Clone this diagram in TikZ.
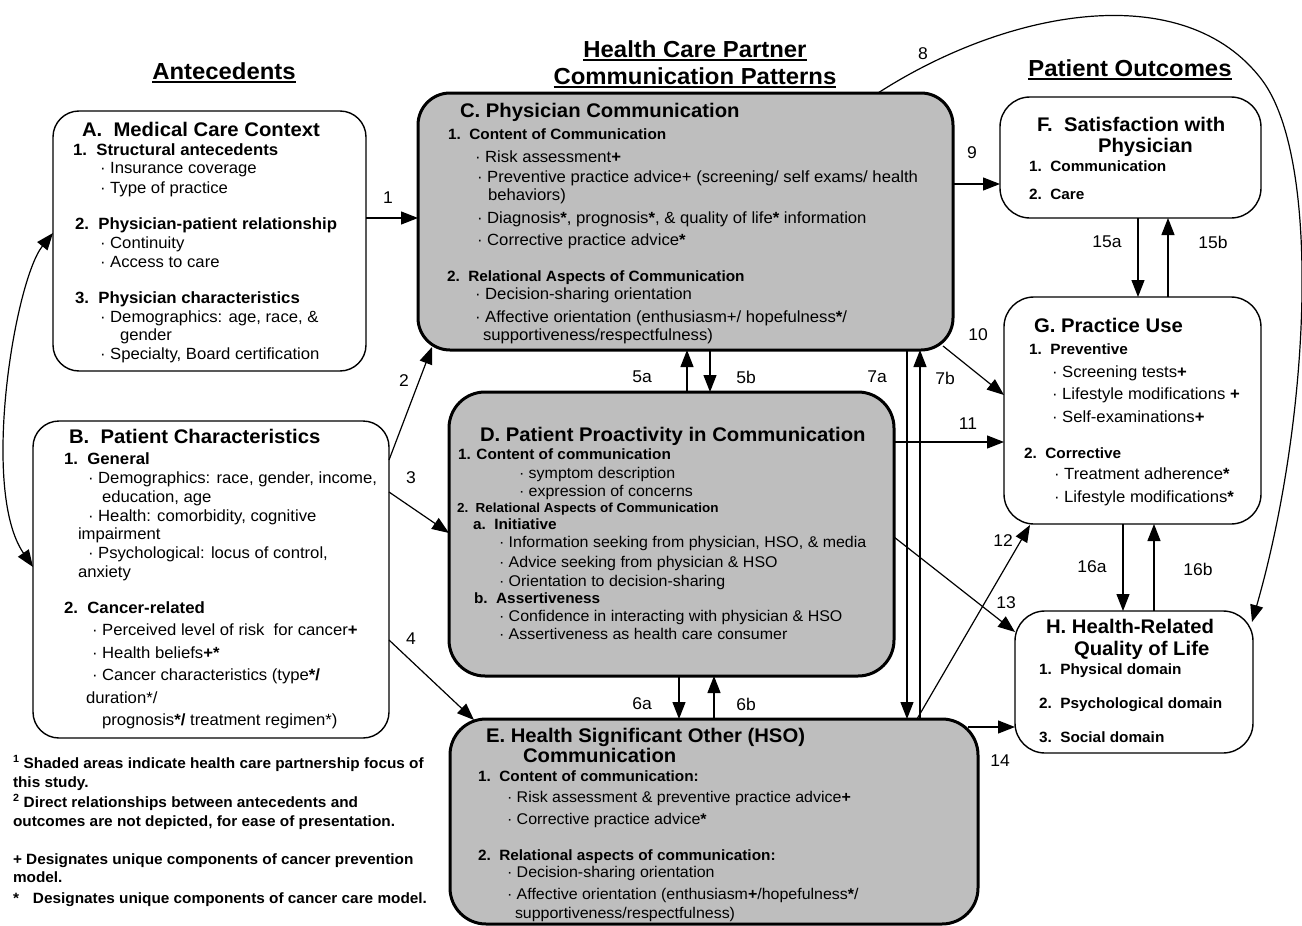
\documentclass[tikz,border=0pt]{standalone}
\usepackage{fontspec}
\setmainfont[FakeStretch=1.03]{Liberation Sans}
\usetikzlibrary{arrows.meta,calc}
\definecolor{boxgray}{RGB}{190,190,190}
\newcounter{tln}
\newcommand{\txl}[4][]{\stepcounter{tln}\node[txt,#1] (L\arabic{tln}) at (#2,#3) {#4};}
\newcommand{\fbody}{\fontsize{16.2}{18}\selectfont}
\newcommand{\fsm}{\fontsize{15.5}{18}\selectfont}
\newcommand{\fsub}{\fontsize{14.9}{18}\selectfont\bfseries}
\newcommand{\fsubA}{\fontsize{16.3}{18}\selectfont\bfseries}
\newcommand{\fsubs}{\fontsize{13.1}{16}\selectfont\bfseries}
\newcommand{\ftitle}{\fontsize{19.7}{22}\selectfont\bfseries}
\newcommand{\fhead}{\fontsize{23.2}{26}\selectfont\bfseries}
\newcommand{\ffoot}{\fontsize{14.9}{18}\selectfont\bfseries}
\newcommand{\fnum}{\fontsize{17}{18}\selectfont}
\newcommand{\ulx}[1]{\setbox0\hbox{#1}\rlap{\rule[-3.5pt]{\wd0}{1.8pt}}\box0}
\begin{document}
\begin{tikzpicture}[x=1pt,y=-1pt,
  txt/.style={anchor=base west, inner sep=0pt, outer sep=0pt, font=\fbody},
  sm/.style={font=\fsm},
  sh/.style={font=\fsub},
  shA/.style={font=\fsubA},
  shs/.style={font=\fsubs},
  ti/.style={font=\ftitle},
  hd/.style={font=\fhead, anchor=base},
  fn/.style={font=\ffoot},
  num/.style={font=\fnum, inner sep=0pt},
  box/.style={draw, rounded corners=26pt, line width=1.4pt, inner sep=0pt, outer sep=0pt},
  gbox/.style={box, fill=boxgray, line width=3pt, rounded corners=32pt},
  arr/.style={line width=1.2pt, -{Triangle[length=17pt,width=13pt]}},
  arrb/.style={line width=1.2pt, {Triangle[length=17pt,width=13pt]}-{Triangle[length=17pt,width=13pt]}},
  ln/.style={line width=1.2pt}
]
\useasboundingbox (0,0) rectangle (1302,926);

% boxes
\node[box, minimum width=313pt, minimum height=260pt] (A) at (209.5,241) {};
\node[box, minimum width=356pt, minimum height=317pt] (B) at (211,579.5) {};
\node[gbox, minimum width=535pt, minimum height=257pt] (C) at (685.5,221.5) {};
\node[gbox, minimum width=445pt, minimum height=284pt, rounded corners=36pt] (D) at (671.5,534) {};
\node[gbox, minimum width=528pt, minimum height=205pt, rounded corners=36pt] (E) at (714,821.5) {};
\node[box, minimum width=261pt, minimum height=121pt, rounded corners=30pt] (F) at (1130.5,157.5) {};
\node[box, minimum width=257pt, minimum height=227pt, rounded corners=30pt] (G) at (1132.5,410.5) {};
\node[box, minimum width=238pt, minimum height=142pt, rounded corners=30pt] (H) at (1134,682) {};

% section headings
\txl[hd]{224}{79}{\ulx{Antecedents}}
\txl[hd]{695}{57}{\ulx{Health Care Partner}}
\txl[hd]{695}{84}{\ulx{Communication Patterns}}
\txl[hd]{1130}{76}{\ulx{Patient Outcomes}}

% A
\txl[ti]{82}{136}{A.\ \ Medical Care Context}
\txl[shA]{73}{155}{1.\ \ Structural antecedents}
\txl{100}{173}{· Insurance coverage}
\txl{100}{193}{· Type of practice}
\txl[shA]{75}{229}{2.\ \ Physician-patient relationship}
\txl{100}{248}{· Continuity}
\txl{100}{267}{· Access to care}
\txl[shA]{75}{303}{3.\ \ Physician characteristics}
\txl{100}{322}{· Demographics: age, race, \&}
\txl{120}{340}{gender}
\txl{100}{359}{· Specialty, Board certification}

% B
\txl[ti]{69}{443}{B.\ \ Patient Characteristics}
\txl[shA]{64}{464}{1.\ \ General}
\txl{88}{483}{· Demographics: race, gender, income,}
\txl{102}{502}{education, age}
\txl{88}{521}{· Health: comorbidity, cognitive}
\txl{78}{539}{impairment}
\txl{88}{558}{· Psychological: locus of control,}
\txl{78}{577}{anxiety}
\txl[shA]{64}{613}{2.\ \ Cancer-related}
\txl{92}{635}{· Perceived level of risk\ \ for cancer\textbf{+}}
\txl{92}{658}{· Health beliefs\textbf{+*}}
\txl{92}{680}{· Cancer characteristics (type\textbf{*/}}
\txl{86}{703}{duration*/}
\txl{102}{725}{prognosis\textbf{*/} treatment regimen*)}

% footnotes
\txl[fn]{13}{768}{\textsuperscript{1} Shaded areas indicate health care partnership focus of}
\txl[fn]{13}{787}{this study.}
\txl[fn]{13}{807}{\textsuperscript{2} Direct relationships between antecedents and}
\txl[fn]{13}{826}{outcomes are not depicted, for ease of presentation.}
\txl[fn]{13}{864}{+ Designates unique components of cancer prevention}
\txl[fn]{13}{882}{model.}
\txl[fn]{13}{903}{\makebox[20pt][l]{*}Designates unique components of cancer care model.}

% C
\txl[ti]{460}{117}{C. Physician Communication}
\txl[sh]{448}{139}{1.\ \ Content of Communication}
\txl{475}{162}{· Risk assessment\textbf{+}}
\txl{477}{182}{· Preventive practice advice+ (screening/ self exams/ health}
\txl{488}{200}{behaviors)}
\txl{477}{223}{· Diagnosis\textbf{*}, prognosis\textbf{*}, \& quality of life\textbf{*} information}
\txl{477}{245}{· Corrective practice advice\textbf{*}}
\txl[sh]{447}{281}{2.\ \ Relational Aspects of Communication}
\txl{475}{299}{· Decision-sharing orientation}
\txl{475}{322}{· Affective orientation (enthusiasm+/ hopefulness\textbf{*}/}
\txl{483}{340}{supportiveness/respectfulness)}

% D
\txl[ti]{480}{441}{D. Patient Proactivity in Communication}
\txl[sh]{458}{459}{1. Content of communication}
\txl[sm]{519}{478}{· symptom description}
\txl[sm]{519}{496}{· expression of concerns}
\txl[shs]{457}{512}{2.\ \ Relational Aspects of Communication}
\txl[sh]{473}{529}{a.\ \ Initiative}
\txl[sm]{499}{547}{· Information seeking from physician, HSO, \& media}
\txl[sm]{499}{567}{· Advice seeking from physician \& HSO}
\txl[sm]{499}{586}{· Orientation to decision-sharing}
\txl[sh]{474}{603}{b.\ \ Assertiveness}
\txl[sm]{499}{621}{· Confidence in interacting with physician \& HSO}
\txl[sm]{499}{639}{· Assertiveness as health care consumer}

% E
\txl[ti]{486}{742}{E. Health Significant Other (HSO)}
\txl[ti]{523}{762}{Communication}
\txl[sh]{478}{781}{1.\ \ Content of communication:}
\txl[sm]{507}{802}{· Risk assessment \& preventive practice advice\textbf{+}}
\txl[sm]{507}{824}{· Corrective practice advice\textbf{*}}
\txl[sh]{478}{860}{2.\ \ Relational aspects of communication:}
\txl[sm]{507}{877}{· Decision-sharing orientation}
\txl[sm]{507}{899}{· Affective orientation (enthusiasm\textbf{+}/hopefulness\textbf{*}/}
\txl[sm]{515}{918}{supportiveness/respectfulness)}

% F
\txl[ti]{1037}{131}{F.\ \ Satisfaction with}
\txl[ti]{1098}{152}{Physician}
\txl[sh]{1029}{171}{1.\ \ Communication}
\txl[sh]{1029}{199}{2.\ \ Care}

% G
\txl[ti]{1034}{332}{G. Practice Use}
\txl[sh]{1029}{354}{1.\ \ Preventive}
\txl{1052}{377}{· Screening tests\textbf{+}}
\txl{1052}{399}{· Lifestyle modifications \textbf{+}}
\txl{1052}{422}{· Self-examinations\textbf{+}}
\txl[sh]{1024}{458}{2.\ \ Corrective}
\txl{1054}{479}{· Treatment adherence\textbf{*}}
\txl{1054}{502}{· Lifestyle modifications\textbf{*}}

% H
\txl[ti]{1046}{633}{H. Health-Related}
\txl[ti]{1074}{655}{Quality of Life}
\txl[sh]{1039}{674}{1.\ \ Physical domain}
\txl[sh]{1039}{708}{2.\ \ Psychological domain}
\txl[sh]{1039}{742}{3.\ \ Social domain}

% connectors
\draw[arr] (A.east |- 0,218) -- (C.west |- 0,218);
\draw[arr] (B.east |- 0,460) -- ($(C.south west)+(14,-3)$);
\draw[arr] (B.east |- 0,492) -- (D.west |- 0,533);
\draw[arr] (B.east |- 0,640) -- ($(E.north west)+(24,1)$);
\draw[arr] (D.north -| 687,0) -- (C.south -| 687,0);
\draw[arr] (C.south -| 710,0) -- (D.north -| 710,0);
\draw[arr] (D.south -| 679,0) -- (E.north -| 679,0);
\draw[arr] (E.north -| 714,0) -- (D.south -| 714,0);
\draw[arr] (C.south -| 907,0) -- (E.north -| 907,0);
\draw[arr] (E.north -| 920,0) -- (C.south -| 920,0);
\draw[arr] (C.north -| 878,0) .. controls (1010,8) and (1185,-22) .. (1262,80)
   .. controls (1322,160) and (1310,420) .. ($(H.north east)+(-1,11)$);
\draw[arr] (C.east |- 0,184) -- (F.west |- 0,184);
\draw[arr] ($(C.south east)+(-10,-4)$) -- (G.west |- 0,395);
\draw[arr] (D.east |- 0,442) -- (G.west |- 0,442);
\draw[arr] (E.north -| 917,0) -- ($(G.south west)+(26,1)$);
\draw[arr] (D.east |- 0,537) -- (H.west |- 0,632);
\draw[arr] ($(E.north east)+(-10,8)$) -- (H.west |- 0,727);
\draw[arr] (F.south -| 1138,0) -- (G.north -| 1138,0);
\draw[arr] (G.north -| 1168,0) -- (F.south -| 1168,0);
\draw[arr] (G.south -| 1123,0) -- (H.north -| 1123,0);
\draw[arr] (H.north -| 1154,0) -- (G.south -| 1154,0);
\draw[arrb] (A.west |- 0,233) .. controls (15,280) and (-20,490) .. (B.west |- 0,567);

% connector labels
\node[num] (n1) at (388,198) {1};
\node[num] (n2) at (404,381) {2};
\node[num] (n3) at (411,478) {3};
\node[num] (n4) at (411,639) {4};
\node[num] (n5a) at (642,377) {5a};
\node[num] (n5b) at (746,377) {5b};
\node[num] (n6a) at (642,704) {6a};
\node[num] (n6b) at (746,704) {6b};
\node[num] (n7a) at (877,377) {7a};
\node[num] (n7b) at (945,378) {7b};
\node[num] (n8) at (923,54) {8};
\node[num] (n9) at (972,153) {9};
\node[num] (n10) at (978,335) {10};
\node[num] (n11) at (968,424) {11};
\node[num] (n12) at (1003,541) {12};
\node[num] (n13) at (1006,603) {13};
\node[num] (n14) at (1000,761) {14};
\node[num] (n15a) at (1107,242) {15a};
\node[num] (n15b) at (1213,242) {15b};
\node[num] (n16a) at (1092,567) {16a};
\node[num] (n16b) at (1198,569) {16b};
\end{tikzpicture}
\end{document}
